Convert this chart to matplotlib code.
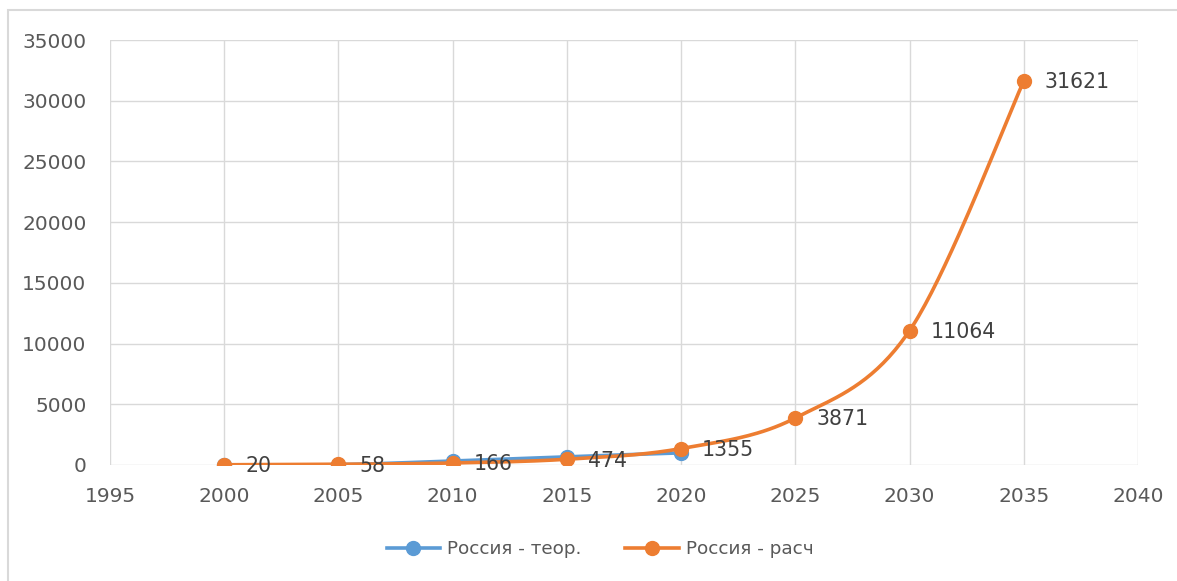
import numpy as np
import matplotlib
matplotlib.use("Agg")
import matplotlib.pyplot as plt
from matplotlib.patches import Rectangle

years = [2000, 2005, 2010, 2015, 2020, 2025, 2030, 2035]
theor_years = [2000, 2005, 2010, 2015, 2020]
theor_values = [10, 30, 330, 680, 1000]
calc_values = [20, 58, 166, 474, 1355, 3871, 11064, 31621]

x_ticks = [1995, 2000, 2005, 2010, 2015, 2020, 2025, 2030, 2035, 2040]
y_ticks = [0, 5000, 10000, 15000, 20000, 25000, 30000, 35000]

BLUE = "#5B9BD5"
ORANGE = "#ED7D31"
GRID = "#D9D9D9"
TEXT = "#595959"
FONT = "DejaVu Sans"


def smooth_path(xs, ys, steps=40):
    """Catmull-Rom style smoothing similar to spreadsheet 'smoothed line'."""
    xs = np.asarray(xs, float)
    ys = np.asarray(ys, float)
    px = np.concatenate([[xs[0]], xs, [xs[-1]]])
    py = np.concatenate([[ys[0]], ys, [ys[-1]]])
    out_x, out_y = [], []
    t = np.linspace(0, 1, steps)
    k = 1 / 6
    for i in range(1, len(px) - 2):
        p0x, p1x, p2x, p3x = px[i - 1:i + 3]
        p0y, p1y, p2y, p3y = py[i - 1:i + 3]
        c1x, c1y = p1x + (p2x - p0x) * k, p1y + (p2y - p0y) * k
        c2x, c2y = p2x - (p3x - p1x) * k, p2y - (p3y - p1y) * k
        bx = (1 - t) ** 3 * p1x + 3 * (1 - t) ** 2 * t * c1x + 3 * (1 - t) * t ** 2 * c2x + t ** 3 * p2x
        by = (1 - t) ** 3 * p1y + 3 * (1 - t) ** 2 * t * c1y + 3 * (1 - t) * t ** 2 * c2y + t ** 3 * p2y
        out_x.extend(bx)
        out_y.extend(by)
    return np.array(out_x), np.array(out_y)


W, H = 1177, 581
fig = plt.figure(figsize=(W / 100, H / 100), dpi=100)
fig.patch.set_facecolor("white")

# chart frame
fig.add_artist(Rectangle((8 / W, -0.05), 1.1, (H - 10) / H + 0.05,
                         transform=fig.transFigure, fill=False,
                         edgecolor="#D9D9D9", linewidth=1.5))

left, right, top, bottom = 110, 1138, 40, 465
ax = fig.add_axes([left / W, 1 - bottom / H, (right - left) / W, (bottom - top) / H])
ax.set_xlim(1995, 2040)
ax.set_ylim(0, 35000)
ax.set_xticks(x_ticks)
ax.set_yticks(y_ticks)
ax.grid(True, color=GRID, linewidth=1)
ax.set_axisbelow(True)
for s in ax.spines.values():
    s.set_visible(False)
ax.tick_params(length=0, colors=TEXT, labelsize=14.5)
for lbl in ax.get_xticklabels() + ax.get_yticklabels():
    lbl.set_fontfamily(FONT)
ax.tick_params(axis="y", pad=17)
ax.tick_params(axis="x", pad=16)

sx, sy = smooth_path(theor_years, theor_values)
ax.plot(sx, sy, color=BLUE, linewidth=2.6, solid_capstyle="round", zorder=3)
ax.plot(theor_years, theor_values, "o", color=BLUE, markersize=10, zorder=4)

sx, sy = smooth_path(years, calc_values)
ax.plot(sx, sy, color=ORANGE, linewidth=2.6, solid_capstyle="round", zorder=5)
ax.plot(years, calc_values, "o", color=ORANGE, markersize=10, zorder=6)

for xv, yv in zip(years, calc_values):
    ax.annotate(str(yv), (xv, yv), xytext=(15, -1), textcoords="offset points",
                ha="left", va="center", fontsize=14.8, color="#404040",
                fontfamily=FONT, zorder=7)

# legend
h1, = ax.plot([], [], "-o", color=BLUE, linewidth=2.6, markersize=10)
h2, = ax.plot([], [], "-o", color=ORANGE, linewidth=2.6, markersize=10)
fig.legend([h1, h2], ["Россия - теор.", "Россия - расч"],
           loc="center", bbox_to_anchor=(600 / W, 1 - 549 / H), ncol=2,
           frameon=False, prop={"family": FONT, "size": 13.2},
           labelcolor=TEXT, handlelength=2.9, columnspacing=2.4, handletextpad=0.4)

fig.savefig("out.png", dpi=100)
